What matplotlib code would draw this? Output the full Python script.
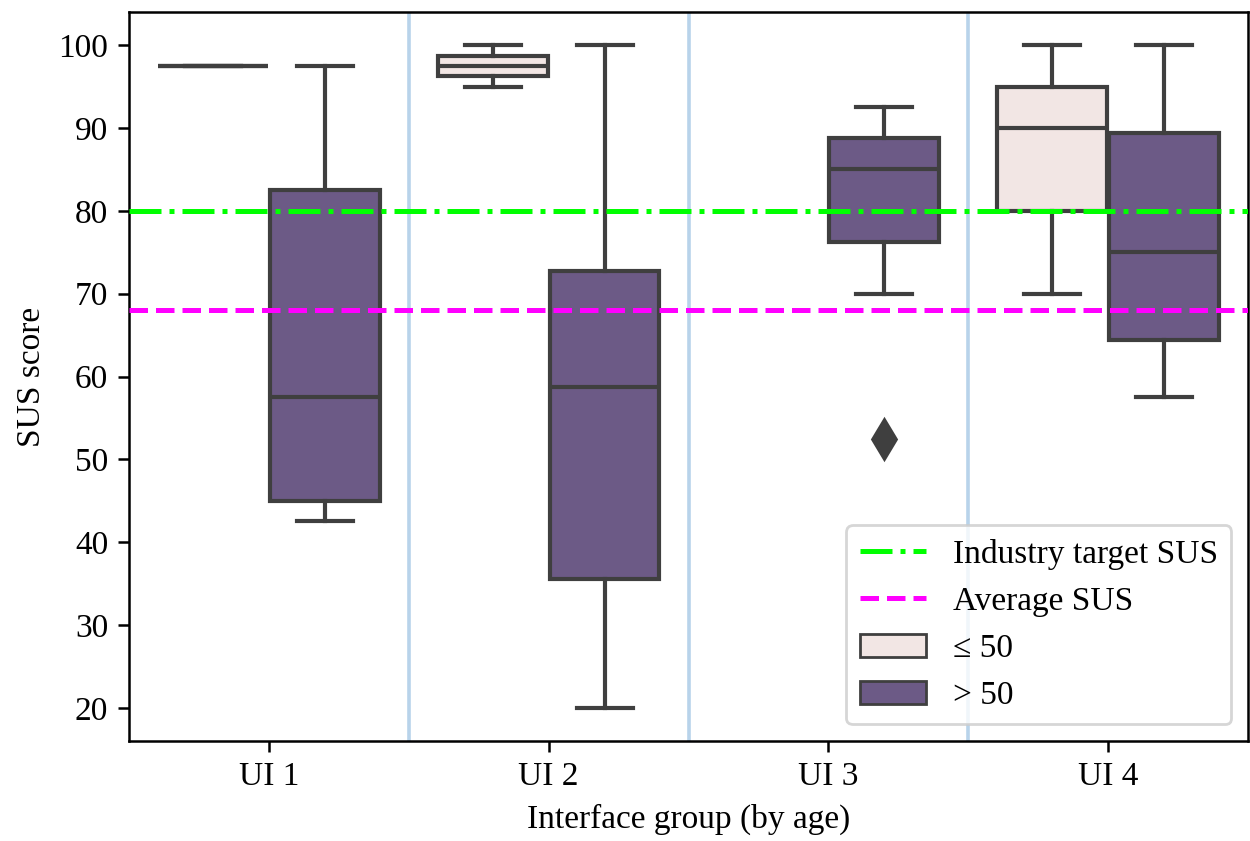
import matplotlib
matplotlib.use("Agg")
import matplotlib.pyplot as plt
from matplotlib.lines import Line2D
from matplotlib.patches import Patch

plt.rcParams['font.family'] = ['Liberation Serif', 'DejaVu Serif']

categories = ["UI 1", "UI 2", "UI 3", "UI 4"]
hue_labels = ["≤ 50", "> 50"]

# box statistics, age ≤ 50 (None = no data)
young_whislo = [97.5, 95.0, None, 70.0]
young_q1 = [97.5, 96.25, None, 80.0]
young_med = [97.5, 97.5, None, 90.0]
young_q3 = [97.5, 98.75, None, 95.0]
young_whishi = [97.5, 100.0, None, 100.0]
young_fliers = [[], [], [], []]

# box statistics, age > 50
old_whislo = [42.5, 20.0, 70.0, 57.5]
old_q1 = [45.0, 35.6, 76.25, 64.4]
old_med = [57.5, 58.75, 85.0, 75.0]
old_q3 = [82.5, 72.75, 88.75, 89.4]
old_whishi = [97.5, 100.0, 92.5, 100.0]
old_fliers = [[], [], [52.5], []]

industry_target = 80
average_sus = 68

colors = ["#f2e6e4", "#6c5a86"]
edge = "#3f3f3f"

fig = plt.figure(figsize=(6.25, 4.205), dpi=200)
ax = fig.add_axes([0.1032, 0.1189, 0.8952, 0.8668])

box_w = 0.4
lw = 1.5
groups = [
    (young_whislo, young_q1, young_med, young_q3, young_whishi, young_fliers, -0.2, colors[0]),
    (old_whislo, old_q1, old_med, old_q3, old_whishi, old_fliers, 0.2, colors[1]),
]
for wl, q1, md, q3, wh, fl, off, col in groups:
    for i in range(len(categories)):
        if md[i] is None:
            continue
        st = dict(whislo=wl[i], q1=q1[i], med=md[i], q3=q3[i], whishi=wh[i], fliers=fl[i])
        ax.bxp([st], positions=[i + off], widths=[box_w * 0.98], patch_artist=True,
               showfliers=True, manage_ticks=False,
               boxprops=dict(facecolor=col, edgecolor=edge, linewidth=lw),
               medianprops=dict(color=edge, linewidth=lw),
               whiskerprops=dict(color=edge, linewidth=lw),
               capprops=dict(color=edge, linewidth=lw),
               capwidths=[box_w * 0.5],
               flierprops=dict(marker='d', markerfacecolor=edge, markeredgecolor=edge,
                               markersize=10, linestyle='none'))

for xv in [0.5, 1.5, 2.5]:
    ax.axvline(xv, color="#b8d3ea", linewidth=1.3, zorder=0)

ax.axhline(industry_target, color="#00ff00", linestyle="-.", linewidth=1.8, zorder=3)
ax.axhline(average_sus, color="#ff00ff", linestyle="--", linewidth=1.8, zorder=3)

ax.set_xlim(-0.5, 3.5)
ax.set_ylim(16, 104)
ax.set_xticks(range(len(categories)))
ax.set_xticklabels(categories)
ax.set_yticks([20, 30, 40, 50, 60, 70, 80, 90, 100])
ax.tick_params(labelsize=12, width=0.9, length=4)
for s in ax.spines.values():
    s.set_linewidth(0.9)
ax.set_xlabel("Interface group (by age)", fontsize=12)
ax.set_ylabel("SUS score", fontsize=12)

handles = [
    Line2D([], [], color="#00ff00", linestyle="-.", linewidth=1.8),
    Line2D([], [], color="#ff00ff", linestyle="--", linewidth=1.8),
    Patch(facecolor=colors[0], edgecolor=edge, linewidth=1.0),
    Patch(facecolor=colors[1], edgecolor=edge, linewidth=1.0),
]
labels = ["Industry target SUS", "Average SUS", "≤ 50", "> 50"]
ax.legend(handles, labels, loc="lower right", fontsize=12)

fig.savefig("out.png", dpi=200)
